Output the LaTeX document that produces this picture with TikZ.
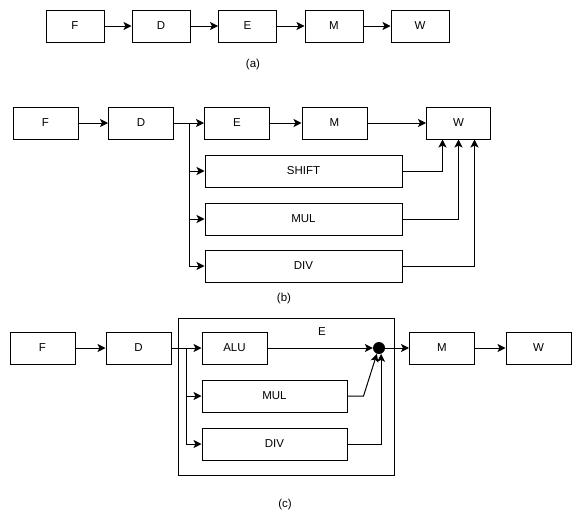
\documentclass[tikz,border=0pt]{standalone}
\usepackage{fontspec}
\setmainfont{Liberation Sans}
\usetikzlibrary{arrows.meta, positioning}

\tikzset{
    box/.style={draw, line width=1pt, minimum height=32pt, inner sep=0pt,
                font=\fontsize{11.5}{13}\selectfont},
    conn/.style={line width=1pt, -{Stealth[length=8pt, width=8pt, inset=2pt]}},
    wire/.style={line width=1pt},
    caption/.style={font=\fontsize{11.5}{13}\selectfont},
}

\begin{document}
\begin{tikzpicture}[x=1pt, y=-1pt]
    \useasboundingbox (0,0) rectangle (581,525);

    % (a) plain five stage pipeline
    \node[box, minimum width=58pt] (aF) at (75,26) {F};
    \node[box, minimum width=58pt] (aD) at (161,26) {D};
    \node[box, minimum width=58pt] (aE) at (247.5,26) {E};
    \node[box, minimum width=58pt] (aM) at (334,26) {M};
    \node[box, minimum width=58pt] (aW) at (420,26) {W};
    \draw[conn] (aF) -- (aD);
    \draw[conn] (aD) -- (aE);
    \draw[conn] (aE) -- (aM);
    \draw[conn] (aM) -- (aW);
    \node[caption] (capA) at (253,65) {(a)};

    % (b) extra units beside E, all writing back to W
    \node[box, minimum width=65pt] (bF) at (45.5,123) {F};
    \node[box, minimum width=65pt] (bD) at (141,123) {D};
    \node[box, minimum width=65pt] (bE) at (237,123) {E};
    \node[box, minimum width=65pt] (bM) at (334.5,123) {M};
    \node[box, minimum width=64pt] (bW) at (458.5,123) {W};
    \node[box, minimum width=197pt] (bShift) at (303.5,171) {SHIFT};
    \node[box, minimum width=197pt] (bMul) at (303.5,219) {MUL};
    \node[box, minimum width=197pt] (bDiv) at (303.5,266) {DIV};
    \coordinate (bFork) at (189,123);

    \draw[conn] (bF) -- (bD);
    \draw[conn] (bD) -- (bE);
    \draw[conn] (bE) -- (bM);
    \draw[conn] (bM) -- (bW);
    \draw[conn] (bFork) |- (bShift.west);
    \draw[conn] (bFork) |- (bMul.west);
    \draw[conn] (bFork) |- (bDiv.west);
    \draw[conn] (bShift.east) -| ([xshift=-16pt]bW.south);
    \draw[conn] (bMul.east) -| (bW.south);
    \draw[conn] (bDiv.east) -| ([xshift=16pt]bW.south);
    \node[caption] (capB) at (284,299) {(b)};

    % (c) units grouped inside E, merged before M
    \node[box, minimum width=216pt, minimum height=157pt] (cE) at (286,396.5) {};
    \node[caption] (cElabel) at (322,332) {E};
    \node[box, minimum width=65pt] (cF) at (42.5,348) {F};
    \node[box, minimum width=65pt] (cD) at (138.5,348) {D};
    \node[box, minimum width=65pt] (cAlu) at (234.5,348) {ALU};
    \node[box, minimum width=145pt] (cMul) at (274.5,396) {MUL};
    \node[box, minimum width=145pt] (cDiv) at (274.5,444) {DIV};
    \node[circle, fill, inner sep=0pt, minimum size=12pt] (cJoin) at (379,348) {};
    \node[box, minimum width=65pt] (cM) at (442,348) {M};
    \node[box, minimum width=65pt] (cW) at (538.5,348) {W};
    \coordinate (cFork) at (186,348);

    \draw[conn] (cF) -- (cD);
    \draw[conn] (cD) -- (cAlu);
    \draw[conn] (cFork) |- (cMul.west);
    \draw[conn] (cFork) |- (cDiv.west);
    \draw[conn] (cAlu) -- (cJoin);
    \draw[conn] (cMul.east) -- ++(16,0) -- (cJoin.-110);
    \draw[conn] (cDiv.east) -| (cJoin.-70);
    \draw[conn] (cJoin) -- (cM);
    \draw[conn] (cM) -- (cW);
    \node[caption] (capC) at (285,505) {(c)};
\end{tikzpicture}
\end{document}
